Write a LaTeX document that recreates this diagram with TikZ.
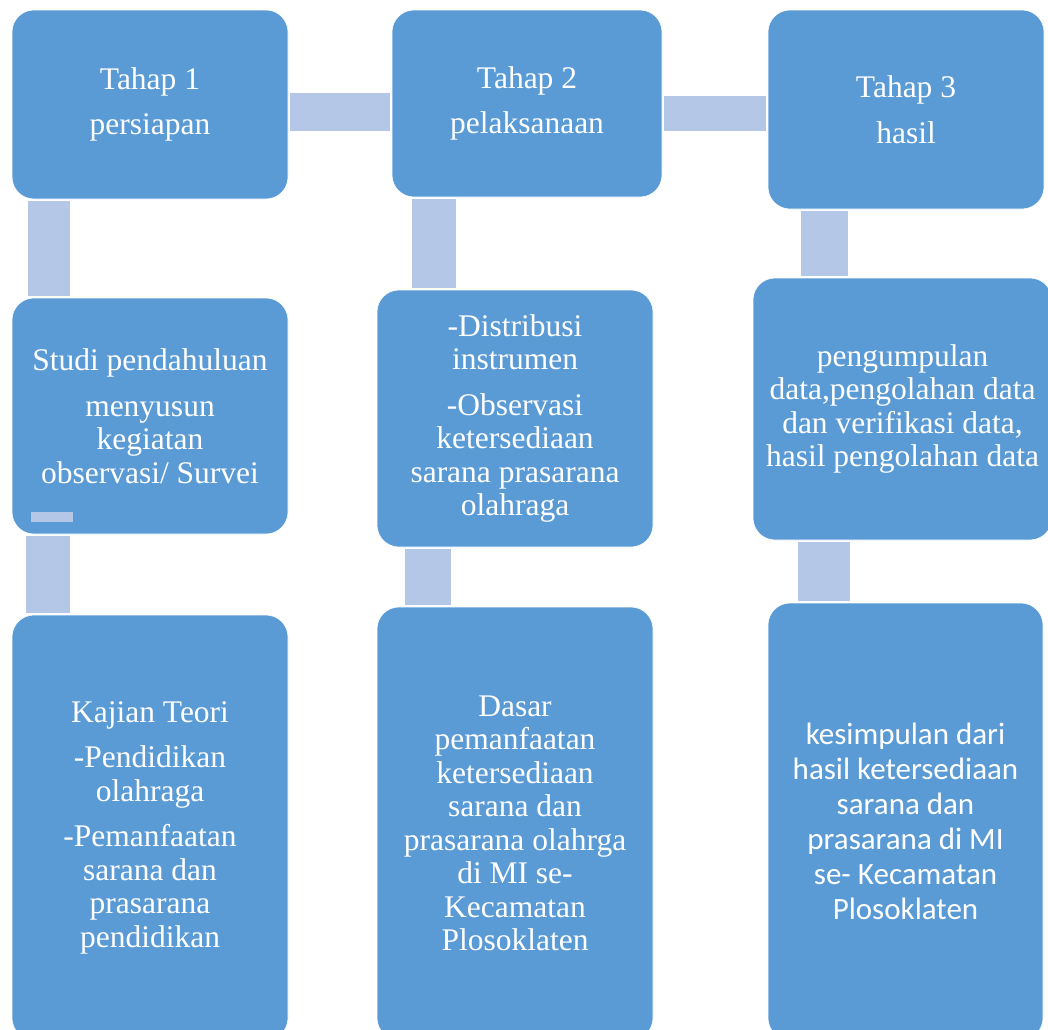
\documentclass[tikz,border=0pt]{standalone}
\usepackage{fontspec}
\setmainfont{Liberation Serif}
\newfontfamily\carlito{Carlito}
\usetikzlibrary{positioning, calc}
\definecolor{boxblue}{HTML}{5B9BD5}
\definecolor{linkblue}{HTML}{B4C7E7}

\begin{document}
\begin{tikzpicture}[x=1pt, y=-1pt,
    box/.style={rectangle, rounded corners=22pt, draw=white, line width=0.6pt, fill=boxblue, text=white, inner sep=0pt, align=center, font=\fontsize{31.5}{33.5}\selectfont},
    link/.style={draw=linkblue, line width=#1, line cap=butt, shorten <=2pt, shorten >=2pt},
    link/.default=44pt
]
\useasboundingbox (0,0) rectangle (1048,1029);
\clip (0,0) rectangle (1048,1029);

% Tahap
\node[box, minimum width=276pt, minimum height=189pt] (tahap1) at (150,104.5) {Tahap 1\\[12pt] persiapan};
\node[box, minimum width=270pt, minimum height=187pt] (tahap2) at (527,103.5) {Tahap 2\\[12pt] pelaksanaan};
\node[box, minimum width=276pt, minimum height=199pt] (tahap3) at (906,109.5) {Tahap 3\\[12pt] hasil};

% middle row
\node[box, minimum width=276pt, minimum height=236pt] (studi) at (150,416) {Studi pendahuluan\\[12pt] menyusun\\ kegiatan\\ observasi/ Survei};
\node[box, minimum width=276pt, minimum height=257pt] (distribusi) at (515,418.5) {-Distribusi\\ instrumen\\[12pt] -Observasi\\ ketersediaan\\ sarana prasarana\\ olahraga};
\node[box, minimum width=299pt, minimum height=262pt] (pengumpulan) at (902.5,409) {pengumpulan\\ data,pengolahan data\\ dan verifikasi data,\\ hasil pengolahan data};
\fill[linkblue] (31,512) rectangle (73,522);

% bottom row
\node[box, minimum width=276pt, minimum height=425pt] (kajian) at (150,827.5) {Kajian Teori\\[12pt] -Pendidikan\\ olahraga\\[12pt] -Pemanfaatan\\ sarana dan\\ prasarana\\ pendidikan};
\node[box, minimum width=276pt, minimum height=433pt] (dasar) at (515,823.5) {Dasar\\ pemanfaatan\\ ketersediaan\\ sarana dan\\ prasarana olahrga\\ di MI se-\\ Kecamatan\\ Plosoklaten};
\node[box, minimum width=275pt, minimum height=437pt, font=\carlito\fontsize{31}{35}\selectfont] (kesimpulan) at (905.5,821.5) {kesimpulan dari\\ hasil ketersediaan\\ sarana dan\\ prasarana di MI\\ se- Kecamatan\\ Plosoklaten};

% links
\draw[link=38pt] ([yshift=-7.5pt]tahap1.east) -- ([yshift=-8.5pt]tahap2.west);
\draw[link=35pt] ([yshift=-10pt]tahap2.east) -- ([yshift=-4pt]tahap3.west);
\draw[link=42pt] ([xshift=-101pt]tahap1.south) -- ([xshift=-101pt]studi.north);
\draw[link] ([xshift=-102pt]studi.south) -- ([xshift=-102pt]kajian.north);
\draw[link] ([xshift=-93pt]tahap2.south) -- ([xshift=-81pt]distribusi.north);
\draw[link=46pt] ([xshift=-87pt]distribusi.south) -- ([xshift=-87pt]dasar.north);
\draw[link=47pt] ([xshift=-81.5pt]tahap3.south) -- ([xshift=-78pt]pengumpulan.north);
\draw[link=52pt] ([xshift=-78.5pt]pengumpulan.south) -- ([xshift=-81.5pt]kesimpulan.north);

\end{tikzpicture}
\end{document}
